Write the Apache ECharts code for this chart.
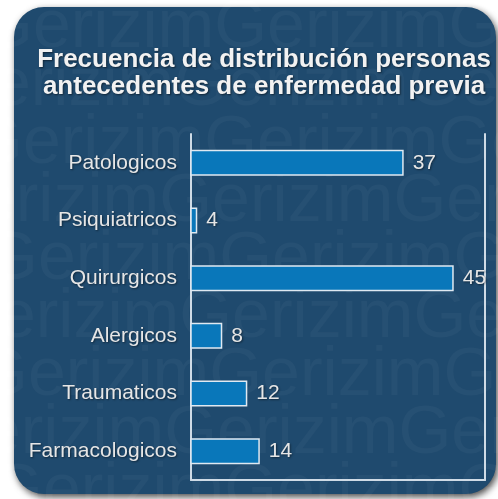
<!DOCTYPE html>
<html>
<head>
<meta charset="utf-8">
<script src="https://cdn.jsdelivr.net/npm/echarts@6/dist/echarts.min.js"></script>
<style>
html,body{margin:0;padding:0;background:#ffffff;}
#chart{width:498px;height:499px;}
</style>
</head>
<body>
<div id="chart"></div>
<script>
const categories = ['Patologicos', 'Psiquiatricos', 'Quirurgicos', 'Alergicos', 'Traumaticos', 'Farmacologicos'];
const values = [37, 4, 45, 8, 12, 14];
const titleText = 'Frecuencia de distribución personas\nantecedentes de enfermedad previa';
const watermarkWord = 'Gerizim';

const chart = echarts.init(document.getElementById('chart'), null, {renderer: 'canvas'});

const wmRows = [
  {x: -20, y: 28}, {x: -60, y: 86}, {x: -30, y: 144}, {x: -75, y: 202},
  {x: -15, y: 260}, {x: -55, y: 318}, {x: -25, y: 376}, {x: -70, y: 434}, {x: -10, y: 492}
];
const watermark = wmRows.map(r => ({
  type: 'text', x: r.x, y: r.y, z: -9, silent: true,
  style: {
    text: watermarkWord.repeat(4),
    font: '68px "Liberation Sans", Arial, sans-serif',
    fill: 'rgba(255,255,255,0.035)',
    textVerticalAlign: 'middle'
  }
}));

chart.setOption({
  backgroundColor: 'transparent',
  animation: false,
  graphic: [
    {
      type: 'rect', z: -10, silent: true,
      shape: {x: 14, y: 7, width: 482, height: 487, r: 30},
      style: {fill: '#1f4a6e', shadowBlur: 7, shadowOffsetX: 2, shadowOffsetY: 3, shadowColor: 'rgba(0,0,0,0.7)'}
    },
    ...watermark,
    {
      type: 'text', x: 264, y: 46, z: 10,
      style: {
        text: titleText,
        font: 'bold 26px "Liberation Sans", Arial, sans-serif',
        fill: '#f2f2f2',
        textAlign: 'center',
        lineHeight: 27,
        textShadowColor: 'rgba(0,0,0,0.5)', textShadowBlur: 2, textShadowOffsetX: 1, textShadowOffsetY: 1
      }
    }
  ],
  grid: {left: 191, right: 13, top: 134, bottom: 19, containLabel: false},
  xAxis: {
    type: 'value', min: 3, max: 50,
    axisLine: {show: true, onZero: false, lineStyle: {color: '#cfdbe6', width: 2}},
    axisTick: {show: false}, axisLabel: {show: false}, splitLine: {show: false}
  },
  yAxis: [
    {
      type: 'category', data: categories, inverse: true,
      axisLine: {show: true, lineStyle: {color: '#cfdbe6', width: 2}},
      axisTick: {show: false},
      axisLabel: {
        margin: 14, color: '#e6e6e6', fontSize: 21,
        fontFamily: '"Liberation Sans", Arial, sans-serif',
        textShadowColor: 'rgba(0,0,0,0.45)', textShadowBlur: 2, textShadowOffsetX: 1, textShadowOffsetY: 1
      },
      splitLine: {show: false}
    },
    {
      type: 'category', data: categories, inverse: true, position: 'right',
      axisLine: {show: true, lineStyle: {color: '#cfdbe6', width: 2}},
      axisTick: {show: false}, axisLabel: {show: false}, splitLine: {show: false}
    }
  ],
  series: [{
    type: 'bar', data: values, barWidth: 26, yAxisIndex: 0,
    itemStyle: {color: '#0977ba', borderColor: '#dfe9f2', borderWidth: 1.5},
    label: {
      show: true, position: 'right', distance: 9,
      color: '#e6e6e6', fontSize: 21,
      fontFamily: '"Liberation Sans", Arial, sans-serif',
      textShadowColor: 'rgba(0,0,0,0.45)', textShadowBlur: 2, textShadowOffsetX: 1, textShadowOffsetY: 1
    }
  }]
});
</script>
</body>
</html>
